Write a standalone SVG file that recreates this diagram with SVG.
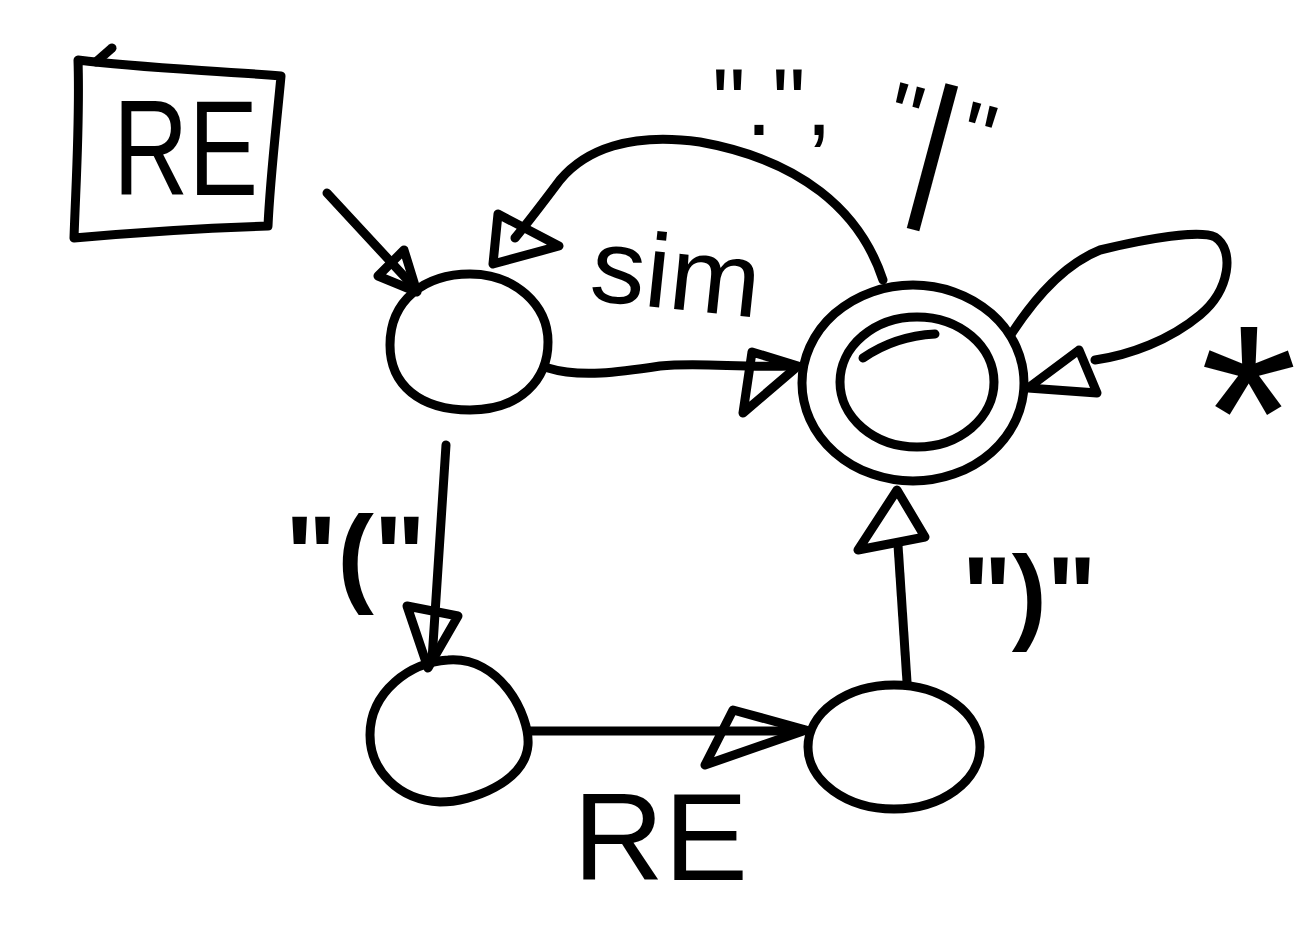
<svg xmlns="http://www.w3.org/2000/svg" width="1312" height="944" viewBox="0 0 1312 944">
<style>
.s{fill:none;stroke:#000;stroke-width:9;stroke-linecap:round;stroke-linejoin:round}
.t{font-family:"Liberation Sans",Arial,sans-serif;fill:#000}
</style>
<rect width="1312" height="944" fill="#fff"/>
<g id="re-box">
<path class="s" d="M78,60 C140,68 210,70 281,76 C276,130 270,180 268,226 C200,228 140,232 74,238 C76,180 80,120 78,60 Z"/>
<path class="s" d="M96,62 L112,48"/>
<text class="t" x="113" y="195" font-size="135" textLength="145" lengthAdjust="spacingAndGlyphs">RE</text>
</g>
<g id="q0">
<path class="s" d="M548,342 C548,380 520,410 470,410 C420,410 390,385 390,345 C390,300 425,274 470,274 C515,274 548,305 548,342 Z"/>
</g>
<g id="q1">
<ellipse class="s" cx="913" cy="383" rx="111" ry="98"/>
<ellipse class="s" cx="917" cy="382" rx="77" ry="65"/>
<path class="s" d="M863,358 Q895,336 935,334"/>
</g>
<g id="q2">
<path class="s" d="M448,660 C500,656 530,715 528,745 C525,782 472,802 440,802 C398,800 370,770 370,735 C370,692 410,662 448,660 Z"/>
</g>
<g id="q3">
<ellipse class="s" cx="894" cy="747" rx="86" ry="62"/>
</g>
<g id="connectors">
<path class="s" d="M327,193 L415,288"/>
<path class="s" d="M417,292 L378,276 L404,250 Z"/>
<path class="s" d="M548,368 C580,378 620,372 660,366 C700,362 740,368 790,366"/>
<path class="s" d="M798,366 L752,352 L743,413 Z"/>
<path class="s" d="M883,280 C860,210 800,160 700,142 C630,132 585,150 560,180 C545,200 530,220 515,238"/>
<path class="s" d="M493,264 L498,214 L559,246 Z"/>
<path class="s" d="M1012,333 C1040,290 1070,262 1100,250 C1150,238 1200,230 1215,237 C1235,250 1230,290 1200,315 C1170,340 1130,355 1095,360"/>
<path class="s" d="M1028,388 L1097,393 L1079,350 Z"/>
<path class="s" d="M446,445 L432,660"/>
<path class="s" d="M428,668 L407,606 L458,616 Z"/>
<path class="s" d="M528,731 L800,731"/>
<path class="s" d="M806,730 L733,710 L705,765 Z"/>
<path class="s" d="M907,682 L898,545"/>
<path class="s" d="M897,490 L858,550 L925,537 Z"/>
</g>
<g id="labels">
<text class="t" x="588" y="300" font-size="105" textLength="170" lengthAdjust="spacingAndGlyphs" transform="rotate(6,588,300)">sim</text>
<text class="t" x="712" y="135" font-size="95">".",</text>
<text class="t" x="878" y="155" font-size="95" transform="rotate(15,920,155)">"<tspan font-size="160" dy="40">|</tspan><tspan dy="-40">"</tspan></text>
<text class="t" x="1200" y="500" font-size="250">*</text>
<text class="t" x="285" y="592" font-size="110" font-weight="bold">"("</text>
<text class="t" x="962" y="630" font-size="105" font-weight="bold">")"</text>
<text class="t" x="573" y="880" font-size="125" textLength="175" lengthAdjust="spacingAndGlyphs">RE</text>
</g>
</svg>
